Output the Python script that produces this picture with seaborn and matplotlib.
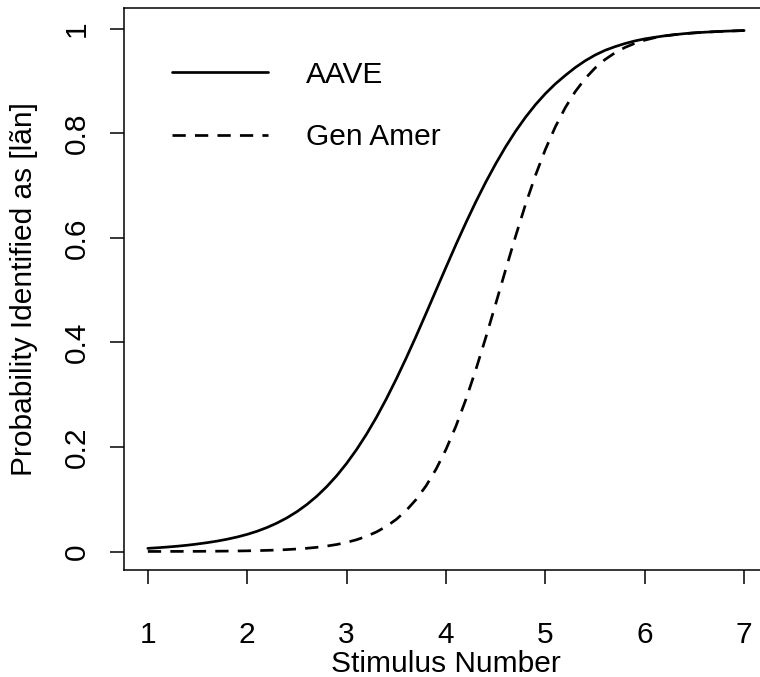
import numpy as np
import pandas as pd
import matplotlib
matplotlib.use("Agg")
import matplotlib.pyplot as plt
import seaborn as sns

# Stimulus continuum (x) sampled every 0.1
stimulus = [1.0, 1.1, 1.2, 1.3, 1.4, 1.5, 1.6, 1.7, 1.8, 1.9,
            2.0, 2.1, 2.2, 2.3, 2.4, 2.5, 2.6, 2.7, 2.8, 2.9,
            3.0, 3.1, 3.2, 3.3, 3.4, 3.5, 3.6, 3.7, 3.8, 3.9,
            4.0, 4.1, 4.2, 4.3, 4.4, 4.5, 4.6, 4.7, 4.8, 4.9,
            5.0, 5.1, 5.2, 5.3, 5.4, 5.5, 5.6, 5.7, 5.8, 5.9,
            6.0, 6.1, 6.2, 6.3, 6.4, 6.5, 6.6, 6.7, 6.8, 6.9, 7.0]

# Probability identified as [lãn]
aave = [0.0060, 0.0072, 0.0086, 0.0102, 0.0121, 0.0144, 0.0170, 0.0200, 0.0236, 0.0278,
        0.0328, 0.0388, 0.0460, 0.0545, 0.0645, 0.0762, 0.0899, 0.1058, 0.1241, 0.1450,
        0.1686, 0.1950, 0.2244, 0.2568, 0.2922, 0.3302, 0.3704, 0.4124, 0.4559, 0.5000,
        0.5439, 0.5873, 0.6291, 0.6691, 0.7068, 0.7419, 0.7745, 0.8042, 0.8310, 0.8550,
        0.8762, 0.8948, 0.9110, 0.9260, 0.9390, 0.9500, 0.9590, 0.9660, 0.9720, 0.9770,
        0.9810, 0.9840, 0.9868, 0.9890, 0.9910, 0.9925, 0.9937, 0.9947, 0.9956, 0.9963, 0.9969]

gen_amer = [0.0001, 0.0001, 0.0002, 0.0002, 0.0003, 0.0003, 0.0005, 0.0006, 0.0008, 0.0010,
            0.0013, 0.0017, 0.0022, 0.0028, 0.0037, 0.0048, 0.0062, 0.0080, 0.0104, 0.0134,
            0.0174, 0.0225, 0.0290, 0.0374, 0.0480, 0.0615, 0.0785, 0.0997, 0.1258, 0.1575,
            0.1954, 0.2399, 0.2909, 0.3478, 0.4093, 0.4738, 0.5392, 0.6032, 0.6640, 0.7197,
            0.7694, 0.8126, 0.8493, 0.8799, 0.9049, 0.9252, 0.9414, 0.9543, 0.9645, 0.9724,
            0.9785, 0.9832, 0.9866, 0.9890, 0.9910, 0.9925, 0.9937, 0.9947, 0.9956, 0.9963, 0.9969]

groups = ["AAVE", "Gen Amer"]
x_ticks = [1, 2, 3, 4, 5, 6, 7]
y_ticks = [0, 0.2, 0.4, 0.6, 0.8, 1]
y_tick_labels = ["0", "0.2", "0.4", "0.6", "0.8", "1"]

df = pd.DataFrame({
    "Stimulus": stimulus * 2,
    "Prob": aave + gen_amer,
    "Dialect": [groups[0]] * len(stimulus) + [groups[1]] * len(stimulus),
})

sns.set_theme(style="ticks")
plt.rcParams["font.family"] = ["Liberation Sans", "DejaVu Sans"]
plt.rcParams["text.color"] = "black"
FS = 21.5

W, H = 760, 677
fig = plt.figure(figsize=(W / 100, H / 100), dpi=100)
L, R, T, B = 124, 768, 7.5, 570
ax = fig.add_axes([L / W, (H - B) / H, (R - L) / W, (B - T) / H])

sns.lineplot(data=df, x="Stimulus", y="Prob", hue="Dialect", style="Dialect",
             palette={"AAVE": "black", "Gen Amer": "black"},
             dashes={"AAVE": "", "Gen Amer": (4.9, 3.4)},
             linewidth=1.95, legend=False, ax=ax)

ax.set_xlim(0.76, 7.24)
ax.set_ylim(-0.0354, 1.041)
ax.set_xticks(x_ticks)
ax.set_xticklabels([str(v) for v in x_ticks])
ax.set_yticks(y_ticks)
ax.set_yticklabels(y_tick_labels, rotation=90, va="center")

for s in ax.spines.values():
    s.set_visible(True)
    s.set_linewidth(1.1)
    s.set_color("black")

ax.tick_params(axis="both", direction="out", length=10, width=1.1, color="black",
               labelsize=FS, labelcolor="black")
ax.tick_params(axis="x", pad=27)
ax.tick_params(axis="y", pad=14)

ax.set_xlabel("Stimulus Number", fontsize=FS, color="black")
ax.set_ylabel("Probability Identified as [lãn]", fontsize=FS, color="black")
ax.xaxis.set_label_coords(0.5, -0.143)
ax.yaxis.set_label_coords(-0.1335, 0.5)

lines = ax.get_lines()[:2]
leg = ax.legend(handles=lines, labels=groups, loc="upper left",
                bbox_to_anchor=(0.0745, 0.905), frameon=False, borderpad=0,
                borderaxespad=0, handlelength=3.2, handletextpad=1.3,
                labelspacing=1.15, fontsize=FS)
for t in leg.get_texts():
    t.set_color("black")

fig.savefig("out.png", dpi=100)
